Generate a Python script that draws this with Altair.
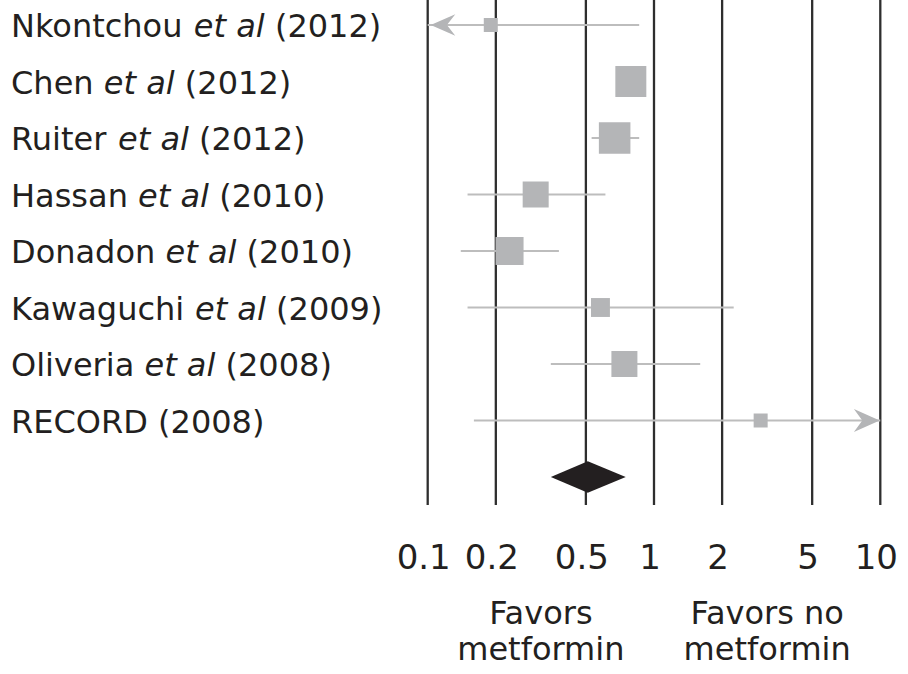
import math
import altair as alt
import pandas as pd

# ---------------- data ----------------
studies = ["Nkontchou", "Chen", "Ruiter", "Hassan", "Donadon", "Kawaguchi", "Oliveria", "RECORD"]
years = ["2012", "2012", "2012", "2010", "2010", "2009", "2008", "2008"]
has_et_al = [True, True, True, True, True, True, True, False]
odds_ratio = [0.19, 0.79, 0.67, 0.30, 0.23, 0.58, 0.74, 2.96]
ci_low = [0.06, 0.73, 0.53, 0.15, 0.14, 0.15, 0.35, 0.16]
ci_high = [0.86, 0.86, 0.86, 0.61, 0.38, 2.25, 1.60, 40.0]
weights = [4.0, 19.6, 20.3, 13.8, 16.0, 7.3, 13.8, 4.0]
pooled_low, pooled_est, pooled_high = 0.35, 0.51, 0.75
ticks = [0.1, 0.2, 0.5, 1, 2, 5, 10]
tick_labels = ["0.1", "0.2", "0.5", "1", "2", "5", "10"]
favor_labels = ["Favors\nmetformin", "Favors no\nmetformin"]

# ---------------- helpers ----------------
XMIN, XMAX = ticks[0], ticks[-1]
FONT = "DejaVu Sans"
TXT = "#231f20"
GREY = "#b4b5b7"
LINE = "#2e2e2e"
LABEL_SIZE = 32

# DejaVu Sans advance widths (em)
W = {" ": .318, "(": .390, ")": .390, ".": .318,
     "N": .748, "k": .579, "o": .612, "n": .634, "t": .392, "c": .550, "h": .634, "u": .634,
     "C": .698, "e": .615, "R": .695, "i": .278, "r": .411, "H": .752, "a": .613, "s": .521,
     "D": .770, "d": .635, "K": .656, "w": .818, "g": .635, "O": .787, "l": .278, "v": .592,
     "E": .632}
for dgt in "0123456789":
    W[dgt] = .636


def tw(s):
    return sum(W.get(ch, .6) for ch in s) * LABEL_SIZE


n = len(studies)
df = pd.DataFrame({
    "study": studies, "row": list(range(n)), "or": odds_ratio,
    "lo": ci_low, "hi": ci_high, "weight": weights,
})
df["lo_c"] = df["lo"].clip(lower=XMIN)
df["hi_c"] = df["hi"].clip(upper=XMAX)
left_arr = df[df["lo"] < XMIN].assign(xa=XMIN)
right_arr = df[df["hi"] > XMAX].assign(xa=XMAX)

LEFT = 11
normal_parts, italic_parts = [], []
for i, (s, y, e) in enumerate(zip(studies, years, has_et_al)):
    normal_parts.append({"row": i, "text": s, "px": LEFT})
    x = LEFT + tw(s + " ")
    if e:
        italic_parts.append({"row": i, "text": "et al", "px": x})
        x += tw("et al ")
    normal_parts.append({"row": i, "text": "(" + y + ")", "px": x})
normal_df = pd.DataFrame(normal_parts)
italic_df = pd.DataFrame(italic_parts)

tick_df = pd.DataFrame({"tick": ticks, "label": tick_labels})
mid_left = math.sqrt(XMIN * 1)
mid_right = math.sqrt(1 * XMAX)
favor_df = pd.DataFrame({"x": [mid_left, mid_right], "label": favor_labels})

H = 0.28
diamond_df = pd.DataFrame({
    "x": [pooled_low, pooled_est, pooled_high],
    "yt": [n, n - H, n],
    "yb": [n, n + H, n],
})

xscale = alt.Scale(type="log", domain=[XMIN, XMAX], range=[427.7, 880.3])
yscale = alt.Scale(domain=[0, n], range=[25, 477])

vlines = alt.Chart(tick_df).mark_rule(color=LINE, strokeWidth=2.3).encode(
    x=alt.X("tick:Q", scale=xscale, axis=None),
    y=alt.value(0), y2=alt.value(505))

ci = alt.Chart(df).mark_rule(color="#bdbdbd", strokeWidth=2).encode(
    x=alt.X("lo_c:Q", scale=xscale, axis=None), x2="hi_c:Q",
    y=alt.Y("row:Q", scale=yscale, axis=None))

squares = alt.Chart(df).mark_square(color=GREY, opacity=1, filled=True, strokeWidth=0).encode(
    x=alt.X("or:Q", scale=xscale, axis=None),
    y=alt.Y("row:Q", scale=yscale, axis=None),
    size=alt.Size("weight:Q", scale=alt.Scale(domain=[0, 20], range=[0, 980]), legend=None))

arrow_l = alt.Chart(left_arr).mark_point(
    shape="M0.25,0 L2.3,-0.9 L1.6,0 L2.3,0.9 Z", filled=True, color=GREY,
    opacity=1, size=576, strokeWidth=0).encode(
    x=alt.X("xa:Q", scale=xscale, axis=None),
    y=alt.Y("row:Q", scale=yscale, axis=None))

arrow_r = alt.Chart(right_arr).mark_point(
    shape="M-0.05,0 L-2.2,-0.95 L-1.5,0 L-2.2,0.95 Z", filled=True, color=GREY,
    opacity=1, size=576, strokeWidth=0).encode(
    x=alt.X("xa:Q", scale=xscale, axis=None),
    y=alt.Y("row:Q", scale=yscale, axis=None))

diamond = alt.Chart(diamond_df).mark_area(color=TXT, opacity=1).encode(
    x=alt.X("x:Q", scale=xscale, axis=None),
    y=alt.Y("yt:Q", scale=yscale, axis=None), y2="yb:Q")

lab_normal = alt.Chart(normal_df).mark_text(
    font=FONT, fontSize=LABEL_SIZE, color=TXT, align="left", baseline="alphabetic", dy=12).encode(
    x=alt.X("px:Q", scale=None, axis=None),
    y=alt.Y("row:Q", scale=yscale, axis=None), text="text:N")

lab_italic = alt.Chart(italic_df).mark_text(
    font=FONT, fontSize=LABEL_SIZE, fontStyle="italic", color=TXT, align="left",
    baseline="alphabetic", dy=12).encode(
    x=alt.X("px:Q", scale=None, axis=None),
    y=alt.Y("row:Q", scale=yscale, axis=None), text="text:N")

tick_text = alt.Chart(tick_df).mark_text(
    font=FONT, fontSize=34, color=TXT, align="center", baseline="alphabetic", dx=-4).encode(
    x=alt.X("tick:Q", scale=xscale, axis=None),
    y=alt.value(569), text="label:N")

favor_text = alt.Chart(favor_df).mark_text(
    font=FONT, fontSize=32, color=TXT, align="center", baseline="alphabetic",
    lineBreak="\n", lineHeight=36).encode(
    x=alt.X("x:Q", scale=xscale, axis=None),
    y=alt.value(624), text="label:N")

chart = alt.layer(
    vlines, ci, squares, arrow_l, arrow_r, diamond,
    lab_normal, lab_italic, tick_text, favor_text
).resolve_scale(x="independent", y="independent").properties(
    width=908, height=674, padding=0, autosize="none", background="white"
).configure_view(stroke=None)

chart.save("out.html", embed_options={"renderer": "svg", "actions": False})
